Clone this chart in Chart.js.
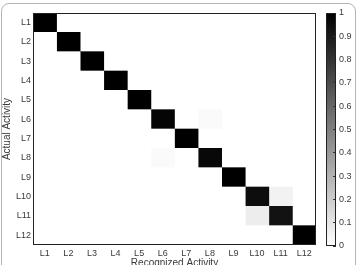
<!DOCTYPE html>
<html>
<head>
<meta charset="utf-8">
<script src="https://cdn.jsdelivr.net/npm/chart.js@4.4.1/dist/chart.umd.min.js"></script>
<style>
  html, body { margin: 0; padding: 0; background: #fff; }
  #wrap { position: relative; width: 359px; height: 265px; overflow: hidden; }
  #frame { position: absolute; left: 1px; top: 3px; width: 355px; height: 280px;
           border: 1px solid #b4b4b4; border-radius: 8px; box-sizing: border-box; }
  canvas { position: absolute; top: 0; }
</style>
</head>
<body>
<div id="wrap">
  <div id="frame"></div>
  <canvas id="cm" width="359" height="265" style="left:0"></canvas>
  <canvas id="cbar" width="41" height="265" style="left:318px"></canvas>
</div>
<script>
// confusion matrix, rows = actual, columns = recognized
const activities = ['L1','L2','L3','L4','L5','L6','L7','L8','L9','L10','L11','L12'];
const confusion = [
  [1,0,0,0,0,0,0,0,0,0,0,0],
  [0,1,0,0,0,0,0,0,0,0,0,0],
  [0,0,1,0,0,0,0,0,0,0,0,0],
  [0,0,0,1,0,0,0,0,0,0,0,0],
  [0,0,0,0,1,0,0,0,0,0,0,0],
  [0,0,0,0,0,0.98,0,0.02,0,0,0,0],
  [0,0,0,0,0,0,1,0,0,0,0,0],
  [0,0,0,0,0,0.02,0,0.97,0,0,0,0],
  [0,0,0,0,0,0,0,0,1,0,0,0],
  [0,0,0,0,0,0,0,0,0,0.95,0.05,0],
  [0,0,0,0,0,0,0,0,0,0.07,0.93,0],
  [0,0,0,0,0,0,0,0,0,0,0,1]
];
const cbarMin = 0;
const cbarMax = 1;
const cbarStep = 0.1;

const FONT = "'Liberation Sans', Arial, sans-serif";
const TXT = '#3a3a3a';

function gray(v) {
  const g = Math.round(255 * (1 - v));
  return 'rgb(' + g + ',' + g + ',' + g + ')';
}

// one dataset per recognized column, floating bar per actual row
const datasets = activities.map((col, j) => ({
  label: col,
  data: activities.map(() => [j + 0.5, j + 1.5]),
  backgroundColor: confusion.map(row => gray(row[j])),
  borderWidth: 0,
  barPercentage: 1,
  categoryPercentage: 1,
  grouped: false
}));

const colTicks = sc => { sc.ticks = activities.map((a, i) => ({ value: i + 1 })); };

const boxPlugin = {
  id: 'box',
  afterDraw(chart) {
    const a = chart.chartArea, c = chart.ctx;
    c.save();
    c.strokeStyle = '#222';
    c.lineWidth = 1;
    c.strokeRect(Math.round(a.left) + 0.5, Math.round(a.top) + 0.5,
                 Math.round(a.right - a.left) - 1, Math.round(a.bottom - a.top) - 1);
    c.restore();
  }
};

new Chart(document.getElementById('cm'), {
  type: 'bar',
  data: { labels: activities, datasets: datasets },
  options: {
    indexAxis: 'y',
    responsive: false,
    animation: false,
    layout: { padding: { left: 0, top: 13, right: 43, bottom: 0 } },
    plugins: { legend: { display: false }, tooltip: { enabled: false } },
    scales: {
      x: {
        type: 'linear', position: 'bottom', min: 0.5, max: 12.5,
        afterBuildTicks: colTicks,
        afterFit: s => { s.height = 20; },
        ticks: { padding: 6, color: TXT, font: { family: FONT, size: 9 },
                 callback: v => activities[v - 1] },
        grid: { drawOnChartArea: false, tickLength: -3, color: '#333' },
        border: { display: false },
        title: { display: true, text: 'Recognized Activity', color: TXT,
                 padding: { top: 0, bottom: -4 }, font: { family: FONT, size: 10 } }
      },
      x2: {
        type: 'linear', position: 'top', min: 0.5, max: 12.5,
        afterBuildTicks: colTicks,
        afterFit: s => { s.height = 0; },
        ticks: { display: false },
        grid: { drawOnChartArea: false, tickLength: -3, color: '#333' },
        border: { display: false }
      },
      y: {
        type: 'category', position: 'left', offset: true,
        afterFit: s => { s.width = 33; },
        ticks: { padding: 5, color: TXT, font: { family: FONT, size: 9 } },
        grid: { offset: false, drawOnChartArea: false, tickLength: -3, color: '#333' },
        border: { display: false },
        title: { display: true, text: 'Actual Activity', color: TXT,
                 padding: 1, font: { family: FONT, size: 10 } }
      },
      y2: {
        type: 'category', position: 'right', offset: true, labels: activities,
        afterFit: s => { s.width = 0; },
        ticks: { display: false },
        grid: { offset: false, drawOnChartArea: false, tickLength: -3, color: '#333' },
        border: { display: false }
      }
    }
  },
  plugins: [boxPlugin]
});

// colorbar
const gradientPlugin = {
  id: 'grad',
  beforeDraw(chart) {
    const a = chart.chartArea, c = chart.ctx;
    const g = c.createLinearGradient(0, a.bottom, 0, a.top);
    g.addColorStop(0, gray(cbarMin));
    g.addColorStop(1, gray(cbarMax));
    c.save();
    c.fillStyle = g;
    c.fillRect(a.left, a.top, a.right - a.left, a.bottom - a.top);
    c.restore();
  }
};

new Chart(document.getElementById('cbar'), {
  type: 'bar',
  data: { labels: [''], datasets: [{ data: [] }] },
  options: {
    responsive: false,
    animation: false,
    layout: { padding: { left: 8, top: 13, right: 3, bottom: 19 } },
    plugins: { legend: { display: false }, tooltip: { enabled: false } },
    scales: {
      x: { display: false },
      y: {
        position: 'right', min: cbarMin, max: cbarMax,
        afterFit: s => { s.width = 20; },
        ticks: { stepSize: cbarStep, padding: 6, color: TXT, font: { family: FONT, size: 9 },
                 callback: v => String(Math.round(v * 10) / 10) },
        grid: { drawOnChartArea: false, tickLength: -3, color: '#333' },
        border: { display: false }
      }
    }
  },
  plugins: [gradientPlugin, boxPlugin]
});
</script>
</body>
</html>
